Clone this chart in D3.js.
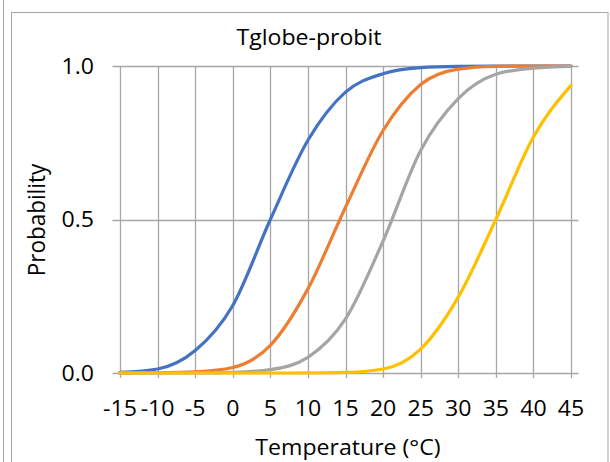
<!DOCTYPE html>
<html>
<head>
<meta charset="utf-8">
<script src="https://cdn.jsdelivr.net/npm/d3@7"></script>
<style>
  html, body { margin: 0; padding: 0; background: #fff; }
  svg { display: block; }
  text { font-family: "Open Sans", Lato, sans-serif; font-weight: 400; fill: #000; }
</style>
</head>
<body>
<svg id="chart" width="610" height="462"></svg>
<script>
// ---- data ----
const temperatures = [-15, -10, -5, 0, 5, 10, 15, 20, 25, 30, 35, 40, 45];
const seriesBlue   = [0.002, 0.013, 0.073, 0.22, 0.50, 0.758, 0.915, 0.975, 0.995, 0.999, 1, 1, 1];
const seriesOrange = [0.0002, 0.0008, 0.004, 0.018, 0.09, 0.274, 0.54, 0.79, 0.94, 0.99, 0.999, 1, 1];
const seriesGray   = [0, 0, 0.0002, 0.002, 0.011, 0.051, 0.176, 0.43, 0.725, 0.894, 0.973, 0.993, 0.999];
const seriesYellow = [0, 0, 0, 0, 0, 0.0003, 0.002, 0.013, 0.078, 0.247, 0.50, 0.769, 0.937];
const xTicks = [-15, -10, -5, 0, 5, 10, 15, 20, 25, 30, 35, 40, 45];
const yTicks = [0, 0.5, 1];
const titleText = "Tglobe-probit";
const xTitle = "Temperature (°C)";
const yTitle = "Probability";

// ---- layout ----
const svg = d3.select("#chart");
const gridColor = "#a6a6a6";
const FS = 21;
const SX = 1.1; // horizontal stretch of the text as seen in the reference

const x = d3.scaleLinear().domain([-16, 46]).range([112.5, 578.5]);
const y = d3.scaleLinear().domain([0, 1]).range([373, 66]);

// outer frames
svg.append("line").attr("x1", 3.5).attr("x2", 3.5).attr("y1", 0).attr("y2", 462)
  .attr("stroke", gridColor).attr("stroke-width", 1);
svg.append("rect").attr("x", 11.5).attr("y", 12.5).attr("width", 596.5).attr("height", 470)
  .attr("fill", "none").attr("stroke", gridColor).attr("stroke-width", 1);

// vertical gridlines (with tick marks below the 0 line)
svg.append("g").selectAll("line").data(xTicks).join("line")
  .attr("x1", d => Math.round(x(d)) + 0.5).attr("x2", d => Math.round(x(d)) + 0.5)
  .attr("y1", y(1)).attr("y2", y(0) + 5)
  .attr("stroke", gridColor).attr("stroke-width", 1.3);

// horizontal gridlines
svg.append("g").selectAll("line").data(yTicks).join("line")
  .attr("x1", x.range()[0]).attr("x2", x.range()[1])
  .attr("y1", d => Math.round(y(d)) + 0.5).attr("y2", d => Math.round(y(d)) + 0.5)
  .attr("stroke", gridColor).attr("stroke-width", 1.3);

// stretched text helper
function stext(tx, ty, str, anchor, rotate) {
  const g = svg.append("g").attr("transform",
    `translate(${tx},${ty})` + (rotate ? ` rotate(${rotate})` : "") + (rotate ? ` scale(1.07,${SX})` : ` scale(${SX},1)`));
  g.append("text").attr("text-anchor", anchor).attr("font-size", FS).text(str);
  return g;
}

// y tick labels
const fmtY = d3.format(".1f");
yTicks.forEach(v => stext(94, y(v) + 7.5, fmtY(v), "end"));

// x tick labels
xTicks.forEach(v => stext(x(v), 415.5, String(v), "middle"));

// titles
stext(309, 44.5, titleText, "middle");
stext(348, 454.5, xTitle, "middle");
stext(45, 220, yTitle, "middle", -90);

// lines
const series = [
  { values: seriesBlue, color: "#4472c4" },
  { values: seriesOrange, color: "#ed7d31" },
  { values: seriesGray, color: "#a5a5a5" },
  { values: seriesYellow, color: "#ffc000" }
];
const line = d3.line()
  .x((d, i) => x(temperatures[i]))
  .y(d => y(d))
  .curve(d3.curveMonotoneX);
svg.append("g").selectAll("path").data(series).join("path")
  .attr("d", s => line(s.values))
  .attr("fill", "none")
  .attr("stroke", s => s.color)
  .attr("stroke-width", 3.2)
  .attr("stroke-linejoin", "round")
  .attr("stroke-linecap", "round");
</script>
</body>
</html>
